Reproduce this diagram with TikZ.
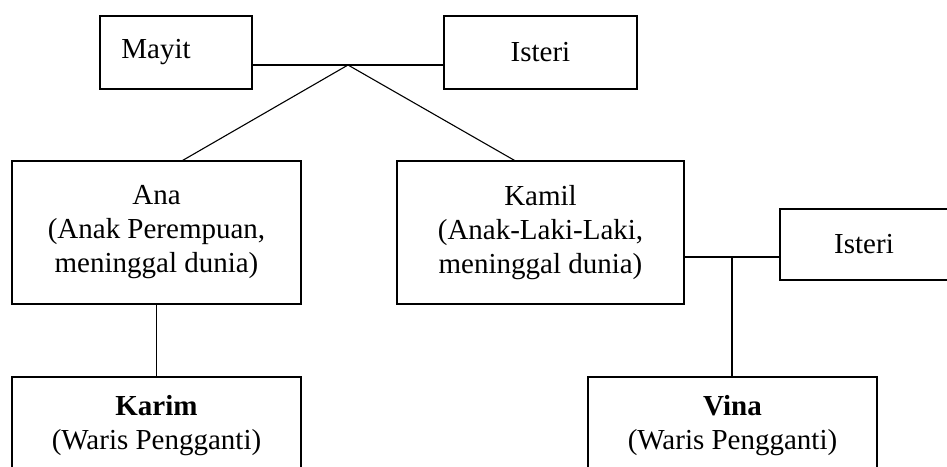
\documentclass[tikz,border=0pt]{standalone}
\usepackage{fontspec}
\setmainfont{Liberation Serif}
\usetikzlibrary{calc}

\begin{document}
\begin{tikzpicture}[x=1pt,y=-1pt,line width=1.1pt,
  box/.style={draw,rectangle,align=center,inner sep=0pt,
    font=\fontsize{29}{34}\selectfont}]
  \useasboundingbox (0,0) rectangle (947,466);
  \clip (0,0) rectangle (947,466);
  \node[box,minimum width=152pt,minimum height=73pt] (mayit) at (176,52.5) {Mayit\hspace*{40pt}};
  \node[box,minimum width=193pt,minimum height=73pt] (isteri) at (540.5,52.5) {Isteri};
  \node[box,minimum width=289pt,minimum height=143pt] (ana) at (156.5,232.5) {Ana\\(Anak Perempuan,\\meninggal dunia)};
  \node[box,minimum width=287pt,minimum height=143pt] (kamil) at (540.5,232.5) {Kamil\\(Anak-Laki-Laki,\\meninggal dunia)};
  \node[box,minimum width=168pt,minimum height=71pt] (isterikamil) at (864,244.5) {Isteri};
  \node[box,minimum width=289pt,minimum height=97pt] (karim) at (156.5,425.5) {\textbf{Karim}\\(Waris Pengganti)};
  \node[box,minimum width=289pt,minimum height=97pt] (vina) at (732.5,425.5) {\textbf{Vina}\\(Waris Pengganti)};
  \coordinate (nikah) at (348,65);
  \coordinate (nikahkamil) at (732,257);
  \draw (nikah -| mayit.east) -- (nikah -| isteri.west);
  \draw (nikah) -- ($(ana.north west)!0.59!(ana.north east)$);
  \draw (nikah) -- ($(kamil.north west)!0.41!(kamil.north east)$);
  \draw (ana) -- (karim);
  \draw (nikahkamil -| kamil.east) -- (nikahkamil -| isterikamil.west);
  \draw (nikahkamil) -- (nikahkamil |- vina.north);
\end{tikzpicture}
\end{document}
